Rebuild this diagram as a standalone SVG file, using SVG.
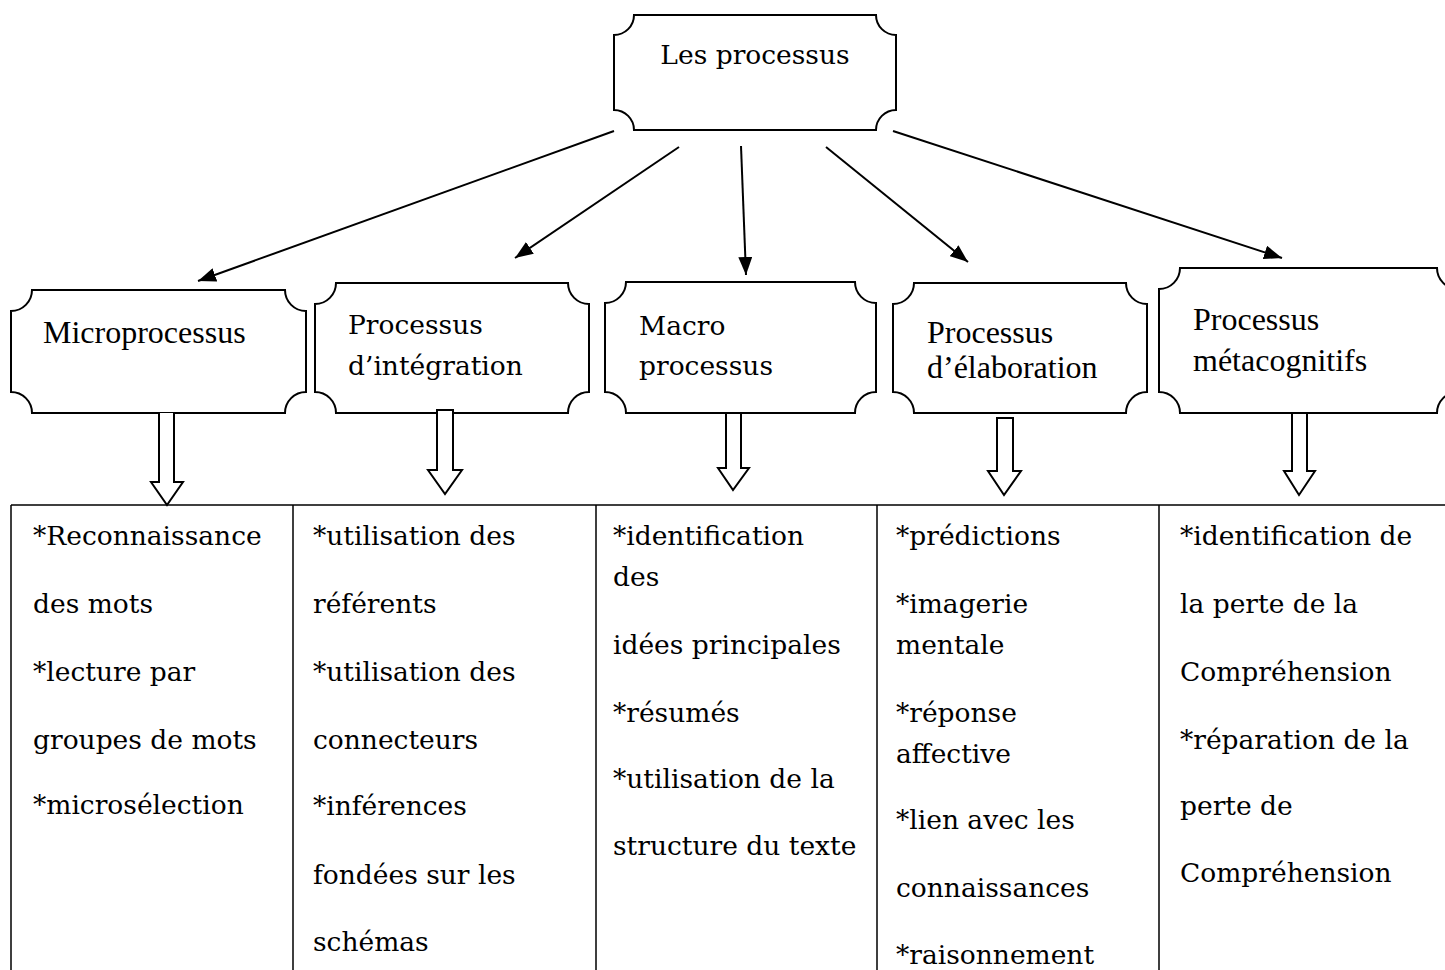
<svg xmlns="http://www.w3.org/2000/svg" width="1445" height="970" viewBox="0 0 1445 970">
<style>
.plaque{fill:#fff;stroke:#000;stroke-width:2}
.rk{font-family:"DejaVu Serif","Liberation Serif",serif;font-size:26.5px;fill:#000}
.tm{font-family:"Liberation Serif","Times New Roman",serif;font-size:32px;fill:#000}
.conn{stroke:#000;stroke-width:2;fill:none}
.blk{fill:#fff;stroke:#000;stroke-width:2;stroke-linejoin:miter}
.grid{stroke:#000;stroke-width:1.5;fill:none}
</style>
<defs>
<marker id="ah" viewBox="0 0 18 14" refX="18" refY="7" markerWidth="18" markerHeight="14" markerUnits="userSpaceOnUse" orient="auto">
<path d="M0,0 L18,7 L0,14 Z" fill="#000"/>
</marker>
</defs>
<rect width="1445" height="970" fill="#fff"/>

<g id="root">
<path class="plaque" d="M634,15 H876 A20,20 0 0 0 896,35 V110 A20,20 0 0 0 876,130 H634 A20,20 0 0 0 614,110 V35 A20,20 0 0 0 634,15 Z"/>
<text class="rk" x="755" y="64" text-anchor="middle">Les processus</text>
</g>

<g id="micro">
<path class="plaque" d="M32,290 H285 A21,21 0 0 0 306,311 V392 A21,21 0 0 0 285,413 H32 A21,21 0 0 0 11,392 V311 A21,21 0 0 0 32,290 Z"/>
<text class="tm" x="43" y="343">Microprocessus</text>
</g>

<g id="integration">
<path class="plaque" d="M336,283 H568 A21,21 0 0 0 589,304 V392 A21,21 0 0 0 568,413 H336 A21,21 0 0 0 315,392 V304 A21,21 0 0 0 336,283 Z"/>
<text class="rk" x="348" y="334">Processus</text>
<text class="rk" x="348" y="375">d’intégration</text>
</g>

<g id="macro">
<path class="plaque" d="M626,282 H855 A21,21 0 0 0 876,303 V392 A21,21 0 0 0 855,413 H626 A21,21 0 0 0 605,392 V303 A21,21 0 0 0 626,282 Z"/>
<text class="rk" x="639" y="335">Macro</text>
<text class="rk" x="639" y="375">processus</text>
</g>

<g id="elaboration">
<path class="plaque" d="M914,283 H1126 A21,21 0 0 0 1147,304 V392 A21,21 0 0 0 1126,413 H914 A21,21 0 0 0 893,392 V304 A21,21 0 0 0 914,283 Z"/>
<text class="tm" x="927" y="343">Processus</text>
<text class="tm" x="927" y="378">d’élaboration</text>
</g>

<g id="metacognitifs">
<path class="plaque" d="M1180,268 H1437 A21,21 0 0 0 1458,289 V392 A21,21 0 0 0 1437,413 H1180 A21,21 0 0 0 1159,392 V289 A21,21 0 0 0 1180,268 Z"/>
<text class="tm" x="1193" y="330">Processus</text>
<text class="tm" x="1193" y="371">métacognitifs</text>
</g>

<g id="connectors">
<line class="conn" x1="614" y1="131" x2="198" y2="281" marker-end="url(#ah)"/>
<line class="conn" x1="679" y1="147" x2="515" y2="258" marker-end="url(#ah)"/>
<line class="conn" x1="741" y1="146" x2="746" y2="275" marker-end="url(#ah)"/>
<line class="conn" x1="826" y1="147" x2="968" y2="262" marker-end="url(#ah)"/>
<line class="conn" x1="893" y1="131" x2="1282" y2="258" marker-end="url(#ah)"/>
<path class="blk" d="M159,413 V482 H151 L167,505 L183,482 H174 V413"/>
<path class="blk" d="M437,410 V470 H428 L445,494 L462,470 H453 V410 Z"/>
<path class="blk" d="M726,413 V468 H718 L733,490 L749,468 H741 V413 Z"/>
<path class="blk" d="M997,418 V471 H988 L1004,495 L1021,471 H1013 V418 Z"/>
<path class="blk" d="M1292,413 V471 H1284 L1299,495 L1315,471 H1307 V413 Z"/>
</g>

<g id="table">
<path class="grid" d="M11,505 H1445 M11,505 V970 M293,505 V970 M596,505 V970 M877,505 V970 M1159,505 V970"/>
</g>

<g id="col1">
<text class="rk" x="33" y="545">*Reconnaissance</text>
<text class="rk" x="33" y="613">des mots</text>
<text class="rk" x="33" y="681">*lecture par</text>
<text class="rk" x="33" y="749">groupes de mots</text>
<text class="rk" x="33" y="814">*microsélection</text>
</g>
<g id="col2">
<text class="rk" x="313" y="545">*utilisation des</text>
<text class="rk" x="313" y="613">référents</text>
<text class="rk" x="313" y="681">*utilisation des</text>
<text class="rk" x="313" y="749">connecteurs</text>
<text class="rk" x="313" y="815">*inférences</text>
<text class="rk" x="313" y="884">fondées sur les</text>
<text class="rk" x="313" y="951">schémas</text>
</g>
<g id="col3">
<text class="rk" x="613" y="545">*identification</text>
<text class="rk" x="613" y="586">des</text>
<text class="rk" x="613" y="654">idées principales</text>
<text class="rk" x="613" y="722">*résumés</text>
<text class="rk" x="613" y="788">*utilisation de la</text>
<text class="rk" x="613" y="855">structure du texte</text>
</g>
<g id="col4">
<text class="rk" x="896" y="545">*prédictions</text>
<text class="rk" x="896" y="613">*imagerie</text>
<text class="rk" x="896" y="654">mentale</text>
<text class="rk" x="896" y="722">*réponse</text>
<text class="rk" x="896" y="763">affective</text>
<text class="rk" x="896" y="829">*lien avec les</text>
<text class="rk" x="896" y="897">connaissances</text>
<text class="rk" x="896" y="964">*raisonnement</text>
</g>
<g id="col5">
<text class="rk" x="1180" y="545">*identification de</text>
<text class="rk" x="1180" y="613">la perte de la</text>
<text class="rk" x="1180" y="681">Compréhension</text>
<text class="rk" x="1180" y="749">*réparation de la</text>
<text class="rk" x="1180" y="815">perte de</text>
<text class="rk" x="1180" y="882">Compréhension</text>
</g>
</svg>
